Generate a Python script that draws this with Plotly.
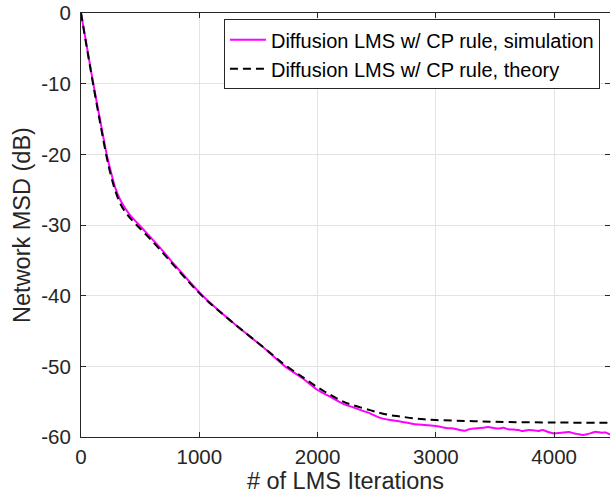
import plotly.graph_objects as go

# Simulation curve
sim_x = [0, 50, 104, 160, 217, 250, 287, 330, 372, 420, 476, 569, 668, 800, 1028, 1268,
         1550, 1716, 1880, 2000, 2105, 2217, 2300, 2443, 2530, 2612, 2700, 2810, 2900, 3000,
         3050, 3100, 3150, 3200, 3245, 3280, 3320, 3360, 3400, 3442, 3480, 3530, 3570, 3612,
         3660, 3700, 3725, 3780, 3820, 3866, 3900, 3950, 4000, 4040, 4080, 4125, 4170, 4210,
         4238, 4280, 4320, 4350, 4400, 4435, 4470, 4500]
sim_y = [0, -4.8, -10, -15, -20, -22.3, -24.6, -26.4, -27.6, -28.7, -29.7, -31.4, -33.2, -35.8,
         -40, -43.58, -47.45, -49.9, -51.8, -53.35, -54.3, -55.3, -55.8, -56.65, -57.3, -57.6,
         -57.8, -58.15, -58.3, -58.45,
         -58.6, -58.75, -58.8, -59.0, -59.1, -58.9, -58.8, -58.75, -58.7, -58.6, -58.7, -58.8,
         -58.7, -58.9, -58.95, -59.0, -59.15, -59.0, -59.05, -59.15, -59.0, -59.3, -59.5,
         -59.45, -59.35, -59.3, -59.5, -59.6, -59.7, -59.6, -59.4, -59.25, -59.4, -59.35,
         -59.6, -59.5]

# Theory curve
th_x = [0, 50, 104, 160, 217, 250, 287, 330, 372, 420, 476, 569, 668, 800, 1028, 1268, 1550,
        1716, 1880, 2000, 2105, 2217, 2300, 2443, 2530, 2612, 2700, 2810, 2900, 3000, 3245,
        3500, 4000, 4500]
th_y = [0, -5, -10.2, -15.4, -20.4, -22.8, -25.0, -26.9, -28.1, -29.1, -30.1, -31.7, -33.5,
        -36.0, -40.1, -43.6, -47.4, -49.7, -51.6, -52.97, -54.0, -55.0, -55.5, -56.2, -56.6,
        -56.9, -57.1, -57.35, -57.5, -57.6, -57.73, -57.85, -57.95, -58.0]

x_ticks = [0, 1000, 2000, 3000, 4000]
y_ticks = [0, -10, -20, -30, -40, -50, -60]
y_ticktext = ["0", "-10", "-20", "-30", "-40", "-50", "-60"]

FONT = "Liberation Sans, Arial, Helvetica, sans-serif"
TXT = "#262626"

fig = go.Figure()
fig.add_trace(go.Scatter(x=sim_x, y=sim_y, mode="lines", line_shape="spline",
                         name="Diffusion LMS w/ CP rule, simulation",
                         line=dict(color="#ff00ff", width=2, smoothing=0.6)))
fig.add_trace(go.Scatter(x=th_x, y=th_y, mode="lines", line_shape="spline",
                         name="Diffusion LMS w/ CP rule, theory",
                         line=dict(color="black", width=2, dash="8px,5px")))

axis_common = dict(showline=True, linecolor=TXT, linewidth=1, mirror="ticks",
                   ticks="inside", ticklen=5, tickcolor=TXT,
                   showgrid=True, gridcolor="#e3e3e3", gridwidth=1,
                   zeroline=False, tickfont=dict(family=FONT, size=20.5, color=TXT))

fig.update_xaxes(range=[0, 4472], tickvals=x_ticks, ticklabelstandoff=1,
                 title=dict(text="# of LMS Iterations", font=dict(family=FONT, size=23.5, color=TXT),
                            standoff=5),
                 **axis_common)
fig.update_yaxes(range=[-60, 0], tickvals=y_ticks, ticktext=y_ticktext, ticklabelstandoff=5,
                 title=dict(text="Network MSD (dB)", font=dict(family=FONT, size=23.5, color=TXT),
                            standoff=4),
                 **axis_common)

fig.update_layout(
    width=610, height=502,
    margin=dict(l=81, r=0, t=13, b=65),
    paper_bgcolor="white", plot_bgcolor="white",
    font=dict(family=FONT, color=TXT),
    legend=dict(x=0.981, y=0.985, xanchor="right", yanchor="top",
                bgcolor="white", bordercolor=TXT, borderwidth=1,
                font=dict(family=FONT, size=20, color="black"),
                tracegroupgap=0, itemwidth=36),
    showlegend=True,
)

fig.write_html("out.html")
